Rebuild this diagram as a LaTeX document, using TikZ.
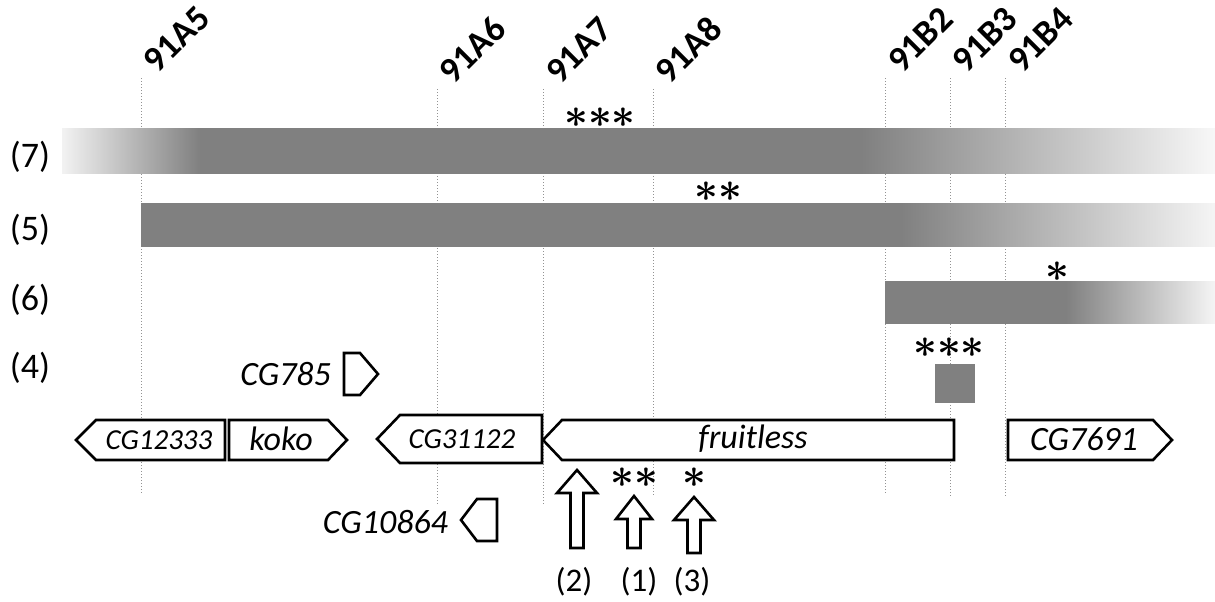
\documentclass[tikz,border=0pt]{standalone}
\usepackage{fontspec}
\setmainfont{Carlito}
\colorlet{barcol}{black!50}
\pgfdeclarehorizontalshading{fadeseven}{100bp}{color(0bp)=(white!95!black); color(25bp)=(white!95!black);
  color(31bp)=(barcol); color(59.6bp)=(barcol); color(75bp)=(white!97!black); color(100bp)=(white!97!black)}
\pgfdeclarehorizontalshading{fadefive}{100bp}{color(0bp)=(barcol); color(25bp)=(barcol);
  color(60.3bp)=(barcol); color(75bp)=(white!96!black); color(100bp)=(white!96!black)}
\pgfdeclarehorizontalshading{fadesix}{100bp}{color(0bp)=(barcol); color(25bp)=(barcol);
  color(52.3bp)=(barcol); color(75bp)=(white!96!black); color(100bp)=(white!96!black)}
\begin{document}
\begin{tikzpicture}[x=0.5pt,y=-0.5pt,
    band/.style={draw=gray!85,densely dotted,line width=0.5pt},
    bandlbl/.style={rotate=45,anchor=south west,inner sep=0pt,font=\fontsize{18}{18}\selectfont\bfseries},
    rowlbl/.style={font=\fontsize{18}{18}\selectfont},
    gene/.style={draw=black,fill=white,line width=1.3pt},
    genelbl/.style={font=\fontsize{17}{17}\selectfont\itshape},
    smallgenelbl/.style={font=\fontsize{14.5}{14.5}\selectfont\itshape},
    starlbl/.style={font=\fontsize{22}{22}\selectfont\boldmath,inner sep=0pt},
    blockarr/.style={draw=black,fill=white,line width=1.3pt},
    arrlbl/.style={font=\fontsize{16.5}{16.5}\selectfont}]
  \useasboundingbox (0,0) rectangle (1215,601);
  \foreach \x/\t/\top/\bot in {141/91A5/78/493, 437/91A6/89/505, 543/91A7/89/505,
      653/91A8/89/495, 885/91B2/78/495, 950/91B3/78/497, 1005/91B4/78/496}{
    \draw[band] (\x,\top) -- (\x,\bot);
    \node[bandlbl] (l\t) at (\x+17,\top-3) {\t};
  }
  \shade[shading=fadeseven] (62,128) rectangle (1215,173);
  \shade[shading=fadefive] (141,203) rectangle (1215,246);
  \shade[shading=fadesix] (885,281) rectangle (1215,323);
  \fill[barcol] (935,364) rectangle (975,403);
  \node[rowlbl] (r7) at (30,157) {(7)};
  \node[rowlbl] (r5) at (30,230) {(5)};
  \node[rowlbl] (r6) at (30,300) {(6)};
  \node[rowlbl] (r4) at (30,368) {(4)};
  \node[starlbl] (s7) at (600,118) {${\ast}{\ast}{\ast}$};
  \node[starlbl] (s5) at (718,192) {${\ast}{\ast}$};
  \node[starlbl] (s6) at (1057,272) {$\ast$};
  \node[starlbl] (s4) at (949,348) {${\ast}{\ast}{\ast}$};
  \node[starlbl] (s1) at (634,478) {${\ast}{\ast}$};
  \node[starlbl] (s3) at (694,478) {$\ast$};
  \draw[gene] (76,440) -- (96,420) -- (225,420) -- (225,460) -- (96,460) -- cycle;
  \node[smallgenelbl] (cg12333) at (159,440) {CG12333};
  \draw[gene] (229,420) -- (328,420) -- (347,440) -- (328,460) -- (229,460) -- cycle;
  \node[genelbl] (koko) at (281,439) {koko};
  \draw[gene] (377,439) -- (400,415) -- (542,415) -- (542,463) -- (400,463) -- cycle;
  \node[smallgenelbl] (cg31122) at (462,439) {CG31122};
  \draw[gene] (543,440) -- (562,420) -- (954,420) -- (954,460) -- (562,460) -- cycle;
  \node[genelbl] (fru) at (753,439) {fruitless};
  \draw[gene] (1008,420) -- (1153,420) -- (1172,440) -- (1153,460) -- (1008,460) -- cycle;
  \node[genelbl] (cg7691) at (1084,439) {CG7691};
  \draw[gene] (344,353) -- (360,353) -- (378,374) -- (360,395) -- (344,395) -- cycle;
  \node[genelbl,anchor=east] (cg785) at (338,374) {CG785};
  \draw[gene] (461,520) -- (477,499) -- (497,499) -- (497,541) -- (477,541) -- cycle;
  \node[genelbl,anchor=east] (cg10864) at (455,522) {CG10864};
  \foreach \x/\tip/\bot/\hw/\n/\lx in {577/470/548/20/2/574, 634/496/548/18/1/639, 694/497/553/20/3/692}{
    \draw[blockarr] (\x,\tip) -- (\x+\hw,\tip+23) -- (\x+6.5,\tip+23) -- (\x+6.5,\bot)
      -- (\x-6.5,\bot) -- (\x-6.5,\tip+23) -- (\x-\hw,\tip+23) -- cycle;
    \node[arrlbl] (a\n) at (\lx,582) {(\n)};
  }
\end{tikzpicture}
\end{document}
